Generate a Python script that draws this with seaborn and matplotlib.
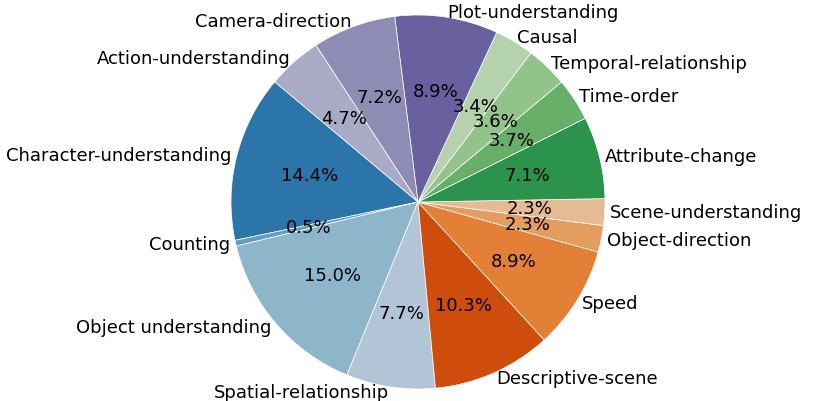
import matplotlib
matplotlib.use("Agg")
import matplotlib.pyplot as plt
import seaborn as sns

categories = [
    "Character-understanding", "Counting", "Object understanding",
    "Spatial-relationship", "Descriptive-scene", "Speed", "Object-direction",
    "Scene-understanding", "Attribute-change", "Time-order",
    "Temporal-relationship", "Causal", "Plot-understanding",
    "Camera-direction", "Action-understanding",
]
shares = [14.4, 0.5, 15.0, 7.7, 10.3, 8.9, 2.3, 2.3, 7.1, 3.7, 3.6, 3.4, 8.9, 7.2, 4.7]

sns.set_style("white")
plt.rcParams["font.family"] = ["DejaVu Sans"]

# tab20c, a touch darker as in the reference
colors = [tuple(c * 0.9 for c in rgb) for rgb in sns.color_palette("tab20c", len(categories))]

W, H = 815, 402
fig = plt.figure(figsize=(W / 100, H / 100), dpi=100)
ax = fig.add_axes([0, 0, 1, 1])

ax.pie(
    shares, labels=categories, colors=colors, autopct="%1.1f%%",
    startangle=140, counterclock=True, labeldistance=1.03, pctdistance=0.6,
    wedgeprops=dict(edgecolor="white", linewidth=0.5),
    textprops=dict(fontsize=13, color="black"),
)

# place the pie: center at (418, 203) px, radius 187 px
cx, cy, r = 418, H - 203, 187
ax.set_aspect("auto")
ax.set_xlim(-cx / r, (W - cx) / r)
ax.set_ylim(-cy / r, (H - cy) / r)
ax.axis("off")

fig.savefig("out.png", dpi=100)
